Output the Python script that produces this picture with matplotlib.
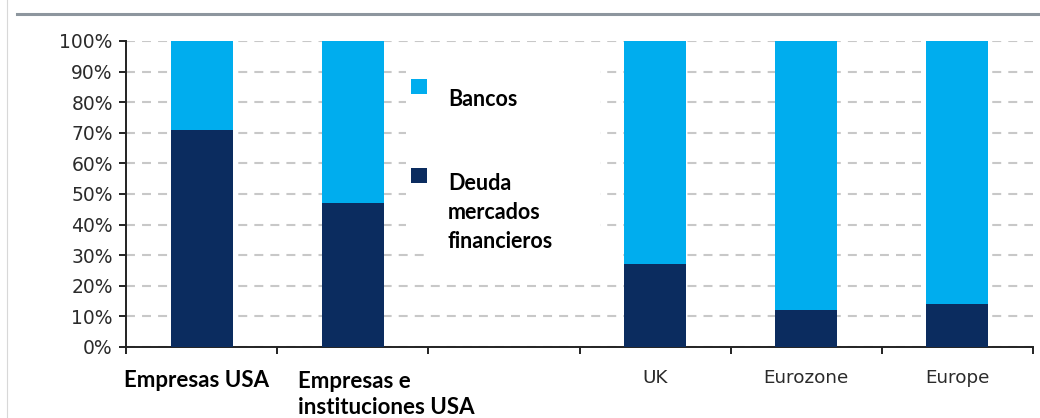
import matplotlib
matplotlib.use("Agg")
import matplotlib.pyplot as plt
import numpy as np
from matplotlib import transforms
from matplotlib.patches import Rectangle
from matplotlib.lines import Line2D

# ---- data ----
categories = ["Empresas USA", "Empresas e\ninstituciones USA", "", "UK", "Eurozone", "Europe"]
deuda_mercados = [71, 47, np.nan, 27, 12, 14]
bancos = [29, 53, np.nan, 73, 88, 86]
y_ticks = [0, 10, 20, 30, 40, 50, 60, 70, 80, 90, 100]
y_tick_labels = ["0%", "10%", "20%", "30%", "40%", "50%", "60%", "70%", "80%", "90%", "100%"]
legend_labels = ["Bancos", "Deuda\nmercados\nfinancieros"]

W, H = 1040, 418
DARK = "#0B2C5F"
LIGHT = "#00ADEE"

fig = plt.figure(figsize=(W / 100, H / 100), dpi=100)
ax = fig.add_axes([126 / W, (H - 347) / H, (1033 - 126) / W, (347 - 41) / H])

x = np.arange(len(categories))
ax.bar(x, deuda_mercados, width=0.41, color=DARK, zorder=3)
ax.bar(x, bancos, bottom=deuda_mercados, width=0.41, color=LIGHT, zorder=3)

ax.set_xlim(-0.5, len(categories) - 0.5)
ax.set_ylim(0, 100)
ax.set_yticks(y_ticks)
ax.set_yticklabels(y_tick_labels, family="DejaVu Sans", fontsize=13.5, color="#2b2b2b")
ax.yaxis.grid(True, linestyle=(0, (4.3, 3.4)), color="#c8c8c8", linewidth=1.5, zorder=0)
ax.set_axisbelow(True)

ax.set_xticks(np.arange(-0.5, len(categories), 1))
ax.set_xticklabels([])
ax.tick_params(axis="x", direction="out", length=5, width=1.4, color="#222222")
ax.tick_params(axis="y", direction="out", length=5, width=1.4, color="#222222", pad=4.5)

for s in ["top", "right"]:
    ax.spines[s].set_visible(False)
for s in ["left", "bottom"]:
    ax.spines[s].set_color("#222222")
    ax.spines[s].set_linewidth(1.4)

def px(xp, yp):
    return xp / W, 1 - yp / H

# white legend background (hides gridlines)
for (x0, y0, x1, y1) in [(406, 55, 600, 250), (428, 240, 622, 264)]:
    r = Rectangle(px(x0, y1), (x1 - x0) / W, (y1 - y0) / H, transform=fig.transFigure,
                  facecolor="white", edgecolor="none", zorder=2, clip_on=False)
    ax.add_patch(r)

# category labels (va='baseline' aligns the last line's baseline)
blend = transforms.blended_transform_factory(ax.transData, fig.transFigure)
bold_font = dict(family="Lato", weight="bold", fontsize=16, color="black")
norm_font = dict(family="DejaVu Sans", fontsize=13.2, color="#2b2b2b")
ax.text(x[0] - 0.03, 1 - 387 / H, categories[0], transform=blend, ha="center", va="baseline",
        clip_on=False, **bold_font)
ax.text(x[1] - 0.362, 1 - 414 / H, categories[1], transform=blend, ha="left", va="baseline",
        linespacing=1.32, clip_on=False, **bold_font)
for i in range(3, len(categories)):
    ax.text(x[i], 1 - 383 / H, categories[i], transform=blend, ha="center", va="baseline",
            clip_on=False, **norm_font)

# legend
for color, (sy, ty), lab in zip([LIGHT, DARK], [(79, 106), (168, 248)], legend_labels):
    fig.patches.append(Rectangle(px(411, sy + 15), 16 / W, 15 / H, transform=fig.transFigure,
                                 facecolor=color, edgecolor="none", zorder=5))
    fig.text(448 / W, 1 - ty / H, lab, ha="left", va="baseline", family="Lato",
             weight="bold", fontsize=15.5, color="black", linespacing=1.47)

# frame decorations
fig.add_artist(Line2D([17 / W, 1], [1 - 14 / H, 1 - 14 / H], transform=fig.transFigure,
                      color="#8d969e", linewidth=2.2))
fig.add_artist(Line2D([7 / W, 7 / W], [0, 1], transform=fig.transFigure,
                      color="#d8d8d8", linewidth=0.8))

fig.savefig("out.png", dpi=100, facecolor="white")
